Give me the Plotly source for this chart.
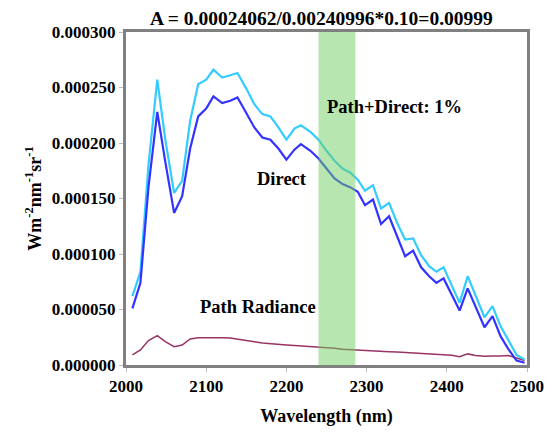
import plotly.graph_objects as go

wavelength = [2008, 2018, 2028, 2039, 2049, 2060, 2070, 2080, 2090, 2100, 2109, 2120, 2130, 2139,
              2150, 2160, 2170, 2180, 2190, 2200, 2210, 2218, 2230, 2240, 2250, 2260, 2270, 2280,
              2289, 2298, 2308, 2318, 2328, 2338, 2348, 2358, 2368, 2378, 2387, 2396, 2406, 2416,
              2426, 2436, 2447, 2457, 2467, 2477, 2487, 2497]

direct = [0.000051, 0.000074, 0.000160, 0.000228, 0.000183, 0.000137, 0.000152, 0.000195, 0.000224,
          0.000231, 0.000242, 0.000236, 0.000238, 0.000241, 0.000227, 0.000214, 0.000205, 0.000203,
          0.000195, 0.000185, 0.000194, 0.000199, 0.000193, 0.000186, 0.000177, 0.000168, 0.000163,
          0.000160, 0.000156, 0.000144, 0.000149, 0.000127, 0.000134, 0.000116, 0.000098, 0.000103,
          0.000088, 0.000080, 0.000074, 0.000078, 0.000063, 0.000049, 0.000069, 0.000052, 0.000034,
          0.000044, 0.000026, 0.000014, 0.000004, 0.000002]

path_direct = [0.000062, 0.000084, 0.000180, 0.000257, 0.000203, 0.000155, 0.000166, 0.000220, 0.000253,
               0.000257, 0.000266, 0.000259, 0.000261, 0.000263, 0.000249, 0.000235, 0.000226, 0.000224,
               0.000214, 0.000203, 0.000213, 0.000216, 0.000210, 0.000203, 0.000193, 0.000184, 0.000177,
               0.000173, 0.000167, 0.000157, 0.000162, 0.000141, 0.000146, 0.000128, 0.000113, 0.000114,
               0.000099, 0.000089, 0.000084, 0.000088, 0.000072, 0.000056, 0.000080, 0.000062, 0.000043,
               0.000053, 0.000035, 0.000022, 0.000009, 0.000005]

path_radiance = [0.0000092, 0.0000135, 0.0000220, 0.0000265, 0.0000210, 0.0000165, 0.0000180, 0.0000235,
                 0.0000245, 0.0000247, 0.0000246, 0.0000245, 0.0000243, 0.0000235, 0.0000224, 0.0000210,
                 0.0000198, 0.0000190, 0.0000185, 0.0000180, 0.0000175, 0.0000172, 0.0000165, 0.0000160,
                 0.0000155, 0.0000150, 0.0000143, 0.0000138, 0.0000133, 0.0000130, 0.0000127, 0.0000123,
                 0.0000120, 0.0000117, 0.0000112, 0.0000108, 0.0000105, 0.0000101, 0.0000095, 0.0000090,
                 0.0000088, 0.0000075, 0.0000100, 0.0000085, 0.0000078, 0.0000082, 0.0000080, 0.0000085,
                 0.0000065, 0.0000040]

band = [2240, 2286]
x_ticks = [2000, 2100, 2200, 2300, 2400, 2500]
y_ticks = [0.0, 0.00005, 0.0001, 0.00015, 0.0002, 0.00025, 0.0003]

title_text = "A = 0.00024062/0.00240996*0.10=0.00999"
FONT = "Liberation Serif"

fig = go.Figure()
fig.add_trace(go.Scatter(x=wavelength, y=path_radiance, mode="lines",
                         line=dict(color="#993366", width=1.5), name="Path Radiance"))
fig.add_trace(go.Scatter(x=wavelength, y=path_direct, mode="lines",
                         line=dict(color="#33CCFF", width=2.2), name="Path+Direct"))
fig.add_trace(go.Scatter(x=wavelength, y=direct, mode="lines",
                         line=dict(color="#3333FF", width=2.2), name="Direct"))

fig.add_shape(type="rect", xref="x", yref="paper", x0=band[0], x1=band[1], y0=0, y1=1.0,
              fillcolor="rgba(113,205,97,0.5)", line=dict(width=0), layer="above")

fig.add_annotation(text="<b>Path+Direct: 1%</b>", x=2335, y=0.000232, xref="x", yref="y",
                   showarrow=False, font=dict(family=FONT, size=18.5, color="black"))
fig.add_annotation(text="<b>Direct</b>", x=2194, y=0.000168, xref="x", yref="y",
                   showarrow=False, font=dict(family=FONT, size=18.5, color="black"))
fig.add_annotation(text="<b>Path Radiance</b>", x=2164, y=0.0000525, xref="x", yref="y",
                   showarrow=False, font=dict(family=FONT, size=18.5, color="black"))

fig.update_layout(
    width=556, height=435,
    margin=dict(l=126, r=19, t=32, b=63),
    paper_bgcolor="white", plot_bgcolor="white",
    showlegend=False,
    title=dict(text="<b>" + title_text + "</b>", x=0.578, xanchor="center", y=0.958, yanchor="middle",
               font=dict(family=FONT, size=19.5, color="black")),
    font=dict(family=FONT, size=18, color="black"),
)
fig.update_xaxes(range=[2000, 2500], tickvals=x_ticks, ticktext=["<b>%d</b>" % v for v in x_ticks],
                 showgrid=False, zeroline=False, showline=True, linecolor="#808080", linewidth=3,
                 mirror=True, ticks="outside", ticklen=4, tickcolor="#bbbbbb",
                 tickfont=dict(family=FONT, size=17, color="black"),
                 title=dict(text="<b>Wavelength (nm)</b>", font=dict(family=FONT, size=18), standoff=14))
fig.update_yaxes(range=[0, 0.0003], tickvals=y_ticks, ticktext=["<b>%.6f</b>" % v for v in y_ticks],
                 showgrid=False, zeroline=False, showline=True, linecolor="#808080", linewidth=3,
                 mirror=True, ticks="outside", ticklen=4, tickcolor="#bbbbbb",
                 tickfont=dict(family=FONT, size=17, color="black"),
                 title=dict(text="<b>Wm<sup>-2</sup>nm<sup>-1</sup>sr<sup>-1</sup></b>",
                            font=dict(family=FONT, size=18), standoff=6))

fig.write_html("out.html")
